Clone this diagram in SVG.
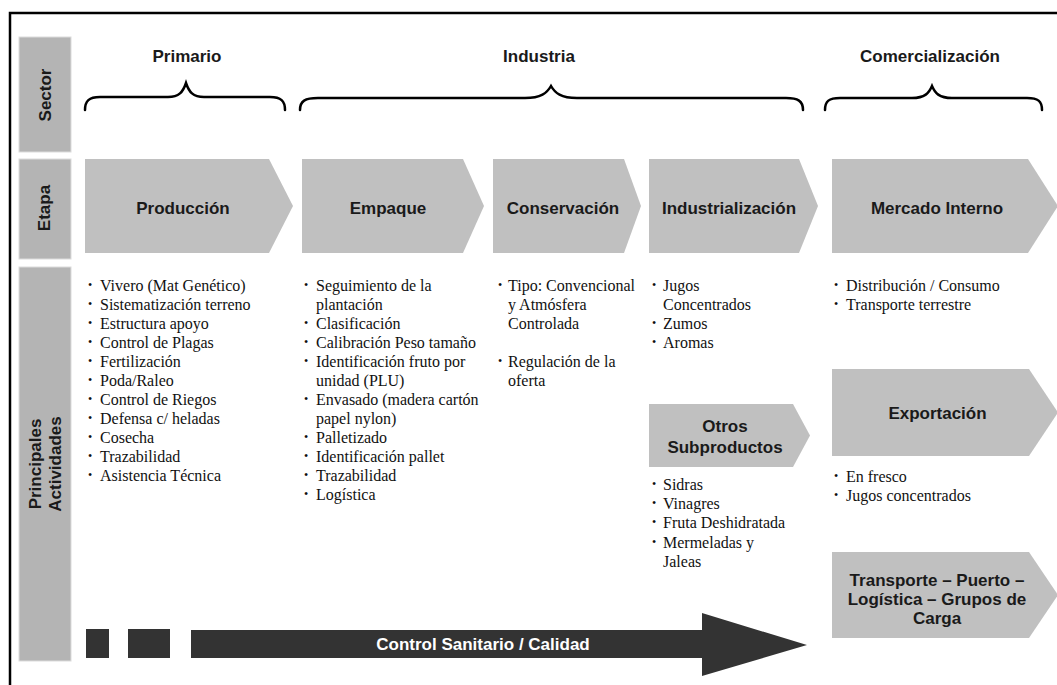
<svg xmlns="http://www.w3.org/2000/svg" width="1057" height="685" viewBox="0 0 1057 685">
<style>
.side{fill:#b4b4b4;stroke:#dcdcdc;stroke-width:1}
.chev{fill:#c0c0c0}
.lbl{font-family:"Liberation Sans",Arial,sans-serif;font-weight:bold;font-size:17px;fill:#1a1a1a;text-anchor:middle}
.lst{font-family:"Liberation Serif","Times New Roman",serif;font-size:16px;fill:#111}
.b{font-size:12px}
.brace{fill:none;stroke:#000;stroke-width:2.5;stroke-linecap:round}
.dark{fill:#333333}
.wlbl{font-family:"Liberation Sans",Arial,sans-serif;font-weight:bold;font-size:17px;fill:#fff;text-anchor:middle}
</style>
<rect x="0" y="0" width="1057" height="685" fill="#fff"/>
<rect x="10" y="13" width="1100" height="700" fill="none" stroke="#000" stroke-width="2.5"/>

<g id="sidebar">
<g id="side-sector"><rect class="side" x="19" y="37" width="52" height="115"/><text class="lbl" transform="translate(51,95) rotate(-90)">Sector</text></g>
<g id="side-etapa"><rect class="side" x="19" y="159" width="52" height="100"/><text class="lbl" transform="translate(49.5,208) rotate(-90)">Etapa</text></g>
<g id="side-actividades"><rect class="side" x="19" y="267" width="52" height="394"/><text class="lbl" transform="translate(41,464) rotate(-90)">Principales</text><text class="lbl" transform="translate(61,464) rotate(-90)">Actividades</text></g>
</g>

<g id="sectors">
<g id="sector-primario"><text class="lbl" x="187" y="62">Primario</text><path class="brace" d="M85,110 C85,101 89,97 100,97 L168,97 C179,97 183,92 186,83 C189,92 193,97 204,97 L270,97 C281,97 285,101 285,110"/></g>
<g id="sector-industria"><text class="lbl" x="539" y="62">Industria</text><path class="brace" d="M300,110 C300,101 305,98 318,98 L525,98 C541,98 547,93 551,86 C555,93 561,98 577,98 L786,98 C798,98 803,101 803,110"/></g>
<g id="sector-comercializacion"><text class="lbl" x="930" y="62">Comercialización</text><path class="brace" d="M825,110 C825,101 829,98 840,98 L912,98 C925,98 929,93 932,86 C935,93 939,98 952,98 L1027,98 C1038,98 1042,101 1042,110"/></g>
</g>

<g id="etapas">
<g id="produccion"><polygon class="chev" points="85,159 269,159 293,206 269,253 85,253"/><text class="lbl" x="183" y="214">Producción</text></g>
<g id="empaque"><polygon class="chev" points="302,159 463,159 484,206 463,253 302,253"/><text class="lbl" x="388" y="214">Empaque</text></g>
<g id="conservacion"><polygon class="chev" points="493,159 624,159 641,206 624,253 493,253"/><text class="lbl" x="563" y="214">Conservación</text></g>
<g id="industrializacion"><polygon class="chev" points="649,159 799,159 818,206 799,253 649,253"/><text class="lbl" x="729" y="214">Industrialización</text></g>
<g id="mercado-interno"><polygon class="chev" points="832,159 1028,159 1058,206 1028,253 832,253"/><text class="lbl" x="937" y="214">Mercado Interno</text></g>
<g id="otros-subproductos"><polygon class="chev" points="649,404 793,404 810,435.5 793,467 649,467"/><text class="lbl" x="725" y="432">Otros</text><text class="lbl" x="725" y="453">Subproductos</text></g>
<g id="exportacion"><polygon class="chev" points="832,369 1029,369 1058,412.5 1029,456 832,456"/><text class="lbl" x="937.5" y="419">Exportación</text></g>
<g id="transporte"><polygon class="chev" points="832,552 1029,552 1058,595 1029,638 832,638"/><text class="lbl" x="937" y="586">Transporte – Puerto –</text><text class="lbl" x="937" y="605">Logística – Grupos de</text><text class="lbl" x="937" y="624">Carga</text></g>
</g>

<g id="actividades" class="lst">
<g id="list-produccion">
<text class="b" x="88" y="289">•</text><text x="100" y="291">Vivero (Mat Genético)</text>
<text class="b" x="88" y="308">•</text><text x="100" y="310">Sistematización terreno</text>
<text class="b" x="88" y="327">•</text><text x="100" y="329">Estructura apoyo</text>
<text class="b" x="88" y="346">•</text><text x="100" y="348">Control de Plagas</text>
<text class="b" x="88" y="365">•</text><text x="100" y="367">Fertilización</text>
<text class="b" x="88" y="384">•</text><text x="100" y="386">Poda/Raleo</text>
<text class="b" x="88" y="403">•</text><text x="100" y="405">Control de Riegos</text>
<text class="b" x="88" y="422">•</text><text x="100" y="424">Defensa c/ heladas</text>
<text class="b" x="88" y="441">•</text><text x="100" y="443">Cosecha</text>
<text class="b" x="88" y="460">•</text><text x="100" y="462">Trazabilidad</text>
<text class="b" x="88" y="479">•</text><text x="100" y="481">Asistencia Técnica</text>
</g>
<g id="list-empaque">
<text class="b" x="304" y="289">•</text><text x="316" y="291">Seguimiento de la</text>
<text x="316" y="310">plantación</text>
<text class="b" x="304" y="327">•</text><text x="316" y="329">Clasificación</text>
<text class="b" x="304" y="346">•</text><text x="316" y="348">Calibración Peso tamaño</text>
<text class="b" x="304" y="365">•</text><text x="316" y="367">Identificación fruto por</text>
<text x="316" y="386">unidad (PLU)</text>
<text class="b" x="304" y="403">•</text><text x="316" y="405">Envasado (madera cartón</text>
<text x="316" y="424">papel nylon)</text>
<text class="b" x="304" y="441">•</text><text x="316" y="443">Palletizado</text>
<text class="b" x="304" y="460">•</text><text x="316" y="462">Identificación pallet</text>
<text class="b" x="304" y="479">•</text><text x="316" y="481">Trazabilidad</text>
<text class="b" x="304" y="498">•</text><text x="316" y="500">Logística</text>
</g>
<g id="list-conservacion">
<text class="b" x="498" y="289">•</text><text x="508" y="291">Tipo: Convencional</text>
<text x="508" y="310">y Atmósfera</text>
<text x="508" y="329">Controlada</text>
<text class="b" x="498" y="365">•</text><text x="508" y="367">Regulación de la</text>
<text x="508" y="386">oferta</text>
</g>
<g id="list-industrializacion">
<text class="b" x="652" y="289">•</text><text x="663" y="291">Jugos</text>
<text x="663" y="310">Concentrados</text>
<text class="b" x="652" y="327">•</text><text x="663" y="329">Zumos</text>
<text class="b" x="652" y="346">•</text><text x="663" y="348">Aromas</text>
</g>
<g id="list-mercado">
<text class="b" x="834" y="289">•</text><text x="846" y="291">Distribución / Consumo</text>
<text class="b" x="834" y="308">•</text><text x="846" y="310">Transporte terrestre</text>
</g>
<g id="list-subproductos">
<text class="b" x="652" y="488">•</text><text x="663" y="490">Sidras</text>
<text class="b" x="652" y="507">•</text><text x="663" y="509">Vinagres</text>
<text class="b" x="652" y="526">•</text><text x="663" y="528">Fruta Deshidratada</text>
<text class="b" x="652" y="546">•</text><text x="663" y="548">Mermeladas y</text>
<text x="663" y="567">Jaleas</text>
</g>
<g id="list-exportacion">
<text class="b" x="834" y="480">•</text><text x="846" y="482">En fresco</text>
<text class="b" x="834" y="499">•</text><text x="846" y="501">Jugos concentrados</text>
</g>
</g>

<g id="connectors">
<g id="control-sanitario">
<rect class="dark" x="86" y="629" width="23" height="29"/>
<rect class="dark" x="128" y="629" width="42" height="29"/>
<polygon class="dark" points="191,630 702,630 702,613 807,645 702,676 702,658 191,658"/>
<text class="wlbl" x="483" y="650">Control Sanitario / Calidad</text>
</g>
</g>
</svg>
